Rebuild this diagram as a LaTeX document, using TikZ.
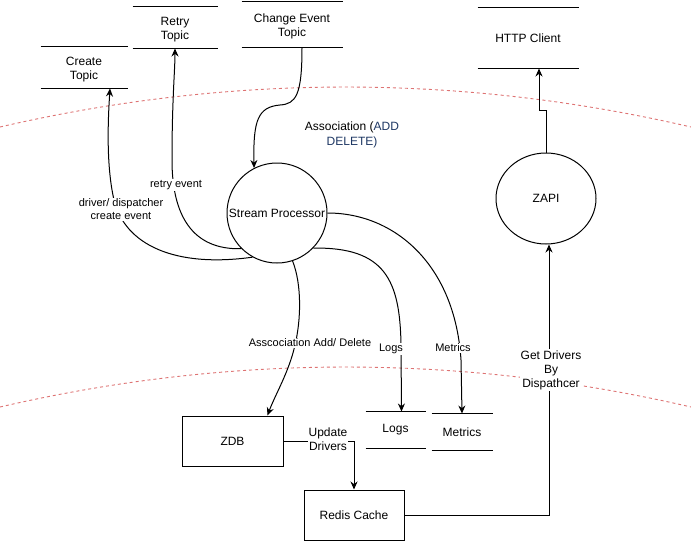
\documentclass[tikz,border=0pt]{standalone}
\usepackage{fontspec}
\setmainfont{Liberation Sans}
\usetikzlibrary{shapes.geometric,arrows.meta}
\definecolor{bnd}{RGB}{222,115,115}
\definecolor{navy}{RGB}{31,56,100}
\newcommand{\lowertxt}[1]{\raisebox{-2.5pt}[\height][\depth]{\begin{tabular}{@{}c@{}}#1\end{tabular}}}
\begin{document}
\begin{tikzpicture}[x=1pt,y=-1pt,line width=1pt,
  every node/.style={font=\fontsize{12}{14}\selectfont, align=center, inner sep=0pt},
  store/.style={append after command={(\tikzlastnode.north west) edge[line width=1pt] (\tikzlastnode.north east) (\tikzlastnode.south west) edge[line width=1pt] (\tikzlastnode.south east)}},
  proc/.style={draw, circle, minimum size=100pt},
  box/.style={draw, rectangle},
  arr/.style={-{Stealth[length=8pt,width=7pt]}},
  lab/.style={fill=white, font=\fontsize{11}{13}\selectfont, inner sep=1pt},
  blab/.style={fill=white, inner sep=1pt},
  boundary/.style={draw=bnd, dash pattern=on 3pt off 3pt, line width=0.9pt}
]
\useasboundingbox (0,0) rectangle (691,541);
\fill[white] (0,0) rectangle (691,541);

% boundaries
\draw[boundary] (0,127) .. controls (230.3,73.7) and (460.7,73.7) .. (691,127);
\draw[boundary] (0,407) .. controls (230.3,353.7) and (460.7,353.7) .. (691,407);

% stores
\node[store, minimum width=86pt, minimum height=41pt] (create) at (84,67.5) {\lowertxt{Create\\Topic}};
\node[store, minimum width=84pt, minimum height=41pt] (retry) at (175,27.5) {\lowertxt{Retry\\Topic}};
\node[store, minimum width=100pt, minimum height=45pt] (change) at (292,24.5) {\lowertxt{Change Event\\Topic}};
\node[store, minimum width=100pt, minimum height=60pt] (http) at (528,38) {HTTP Client};
\node[store, minimum width=59pt, minimum height=36pt] (logs) at (395.5,430) {Logs};
\node[store, minimum width=60pt, minimum height=36pt] (metrics) at (462,432) {Metrics};

% processes
\node[proc] (sp) at (277,213) {Stream Processor};
\node[draw, ellipse, minimum width=100pt, minimum height=91pt] (zapi) at (546,198.5) {ZAPI};
\node[box, minimum width=101pt, minimum height=50pt] (zdb) at (232.5,441) {ZDB};
\node[box, minimum width=100pt, minimum height=50pt] (redis) at (354,515) {Redis Cache};

% text
\node (assoc) at (352,134.5) [font=\fontsize{12}{15}\selectfont] {Association ({\color{navy}ADD}\\{\color{navy}DELETE)}};

% connectors
\draw[arr] ([xshift=10pt]change.south) .. controls (302,95) and (296,104) .. (280,105) .. controls (258,107) and (253,120) .. (sp.117);
\draw[arr] (sp.225) .. controls (192,250) and (172,215) .. (172,160) .. controls (172,100) and (175,70) .. (retry.south);
\draw[arr] (sp.241) .. controls (175,268) and (125,245) .. (114,200) .. controls (106,165) and (108,120) .. ([xshift=26pt]create.south);
\draw[arr] (sp.-44) .. controls (385,247) and (400,280) .. (401,345) -- ([xshift=6pt]logs.north);
\draw[arr] (sp.east) .. controls (395,213) and (455,265) .. (461,360) -- (metrics.north);
\draw[arr] (sp.-72) .. controls (302,285) and (301,320) .. (295,345) .. controls (289,372) and (275,395) .. ([xshift=35pt]zdb.north);
\draw[arr] (zdb.east) -| (redis.north);
\draw[arr] (redis.east) -| ([xshift=3pt]zapi.south);
\draw[arr] (zapi.north) -- ++(0,-42) -| ([xshift=11pt]http.south);

% labels
\node[lab] (lretry) at (176,185) {retry event};
\node[lab] (lcreate) at (121,209.5) {driver/ dispatcher\\create event};
\node[lab] (lassoc) at (310,343) {Asscociation Add/ Delete};
\node[lab] (llogs) at (391,349) {Logs};
\node[lab] (lmetrics) at (453,348) {Metrics};
\node[blab] (lupdate) at (328,439) {Update\\Drivers};
\node[blab] (lget) at (551,370) {Get Drivers\\By\\Dispathcer};
\end{tikzpicture}
\end{document}
